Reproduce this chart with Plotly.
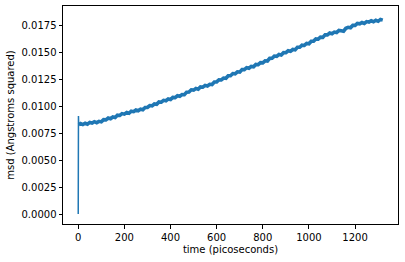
import plotly.graph_objects as go

# spike at the start (time in ps, msd in Angstrom^2)
spike_t = [0, 1, 2]
spike_v = [0.0, 0.0091, 0.0083]

time_ps = [2, 10, 20, 30, 40, 50, 60, 70, 80, 90, 100, 110, 120, 130, 140, 150, 160, 170, 180, 190,
           200, 210, 220, 230, 240, 250, 260, 270, 280, 290, 300, 310, 320, 330, 340, 350, 360, 370,
           380, 390, 400, 410, 420, 430, 440, 450, 460, 470, 480, 490, 500, 510, 520, 530, 540, 550,
           560, 570, 580, 590, 600, 610, 620, 630, 640, 650, 660, 670, 680, 690, 700, 710, 720, 730,
           740, 750, 760, 770, 780, 790, 800, 810, 820, 830, 840, 850, 860, 870, 880, 890, 900, 910,
           920, 930, 940, 950, 960, 970, 980, 990, 1000, 1010, 1020, 1030, 1040, 1050, 1060, 1070,
           1080, 1090, 1100, 1110, 1120, 1130, 1140, 1150, 1160, 1170, 1180, 1190, 1200, 1210, 1220,
           1230, 1240, 1250, 1260, 1270, 1280, 1290, 1300, 1310, 1320]
msd = [0.00830, 0.00840, 0.00831, 0.00843, 0.00834, 0.00851, 0.00845, 0.00858, 0.00849, 0.00861,
       0.00856, 0.00877, 0.00875, 0.00892, 0.00886, 0.00902, 0.00897, 0.00918, 0.00916, 0.00933,
       0.00928, 0.00943, 0.00936, 0.00955, 0.00951, 0.00967, 0.00960, 0.00974, 0.00968, 0.00990,
       0.00990, 0.01008, 0.01005, 0.01022, 0.01019, 0.01041, 0.01039, 0.01056, 0.01052, 0.01068,
       0.01063, 0.01084, 0.01082, 0.01099, 0.01094, 0.01110, 0.01108, 0.01132, 0.01134, 0.01154,
       0.01151, 0.01166, 0.01160, 0.01181, 0.01178, 0.01195, 0.01189, 0.01205, 0.01203, 0.01226,
       0.01227, 0.01247, 0.01245, 0.01263, 0.01261, 0.01285, 0.01285, 0.01305, 0.01302, 0.01321,
       0.01318, 0.01342, 0.01341, 0.01359, 0.01354, 0.01371, 0.01367, 0.01389, 0.01387, 0.01406,
       0.01404, 0.01423, 0.01421, 0.01446, 0.01447, 0.01467, 0.01465, 0.01482, 0.01477, 0.01499,
       0.01498, 0.01516, 0.01511, 0.01528, 0.01525, 0.01549, 0.01549, 0.01568, 0.01566, 0.01584,
       0.01581, 0.01605, 0.01606, 0.01626, 0.01624, 0.01643, 0.01641, 0.01665, 0.01664, 0.01681,
       0.01675, 0.01690, 0.01685, 0.01705, 0.01703, 0.01698, 0.01725, 0.01734, 0.01730, 0.01752,
       0.01752, 0.01770, 0.01766, 0.01779, 0.01770, 0.01787, 0.01782, 0.01795, 0.01786, 0.01799,
       0.01790, 0.01807, 0.01801]

x_ticks = [0, 200, 400, 600, 800, 1000, 1200]
y_ticks = [0.0, 0.0025, 0.005, 0.0075, 0.01, 0.0125, 0.015, 0.0175]

blue = "#1f77b4"
font = dict(family="DejaVu Sans", size=10, color="#000000")

fig = go.Figure()
fig.add_trace(go.Scatter(x=spike_t, y=spike_v, mode="lines",
                         line=dict(color=blue, width=1.5), showlegend=False, hoverinfo="skip"))
fig.add_trace(go.Scatter(x=time_ps, y=msd, mode="lines",
                         line=dict(color=blue, width=3.6), showlegend=False, hoverinfo="skip"))

axis_common = dict(showline=True, linecolor="#000000", linewidth=1, mirror=True,
                   ticks="outside", ticklen=3.5, tickwidth=1, tickcolor="#000000",
                   showgrid=False, zeroline=False, tickfont=font)

fig.update_xaxes(range=[-66, 1386], tickvals=x_ticks, ticktext=[str(v) for v in x_ticks],
                 title=dict(text="time (picoseconds)", font=font, standoff=4), **axis_common)
fig.update_yaxes(range=[-0.00092, 0.01932], tickvals=y_ticks,
                 ticktext=[f"{v:.4f}" for v in y_ticks],
                 title=dict(text="msd (Angstroms squared)", font=font, standoff=5), **axis_common)

fig.update_layout(width=405, height=262, margin=dict(l=63, r=7, t=6, b=38),
                  paper_bgcolor="white", plot_bgcolor="white", font=font)

fig.write_html("out.html")
